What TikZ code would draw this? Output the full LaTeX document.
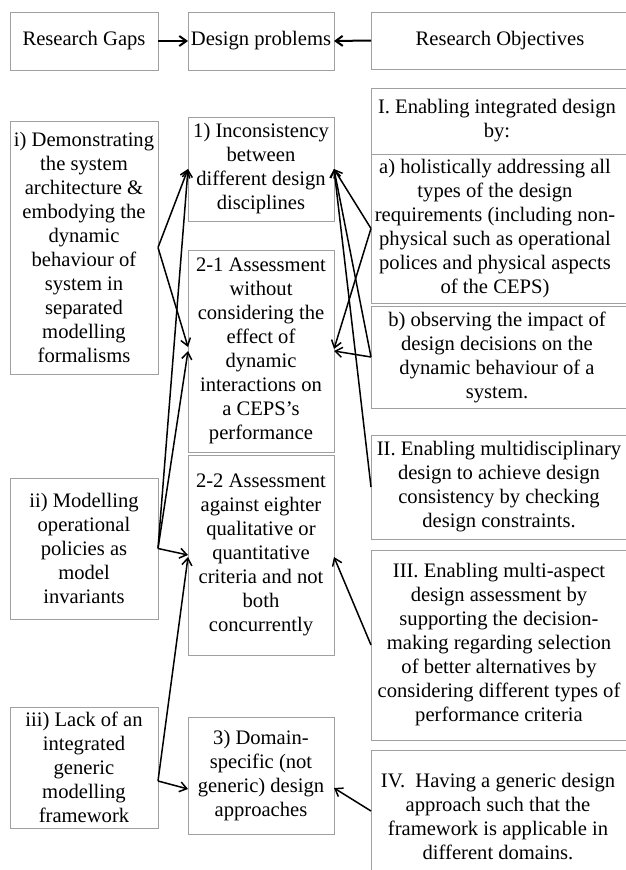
\documentclass[tikz,border=0pt]{standalone}
\usepackage{fontspec}
\setmainfont{Liberation Serif}
\usetikzlibrary{arrows.meta,calc}
\definecolor{boxgray}{RGB}{160,160,160}
\begin{document}
\begin{tikzpicture}[x=1pt,y=-1pt,
  box/.style={draw=boxgray,line width=0.9pt,inner sep=0pt,outer sep=0pt,
    align=center,font=\fontsize{20.6}{24}\selectfont},
  gapbox/.style={box,minimum width=148pt},
  probbox/.style={box,minimum width=146pt},
  objbox/.style={draw=boxgray,line width=0.9pt,inner sep=0pt,outer sep=0pt,
    minimum width=270pt,anchor=north west},
  objtxt/.style={align=center,font=\fontsize{20.6}{24}\selectfont,
    inner sep=0pt,xshift=#1},
  objtxt/.default=-9pt,
  link/.style={line width=1.5pt,-{Straight Barb[length=7pt,width=10pt]}},
  headlink/.style={line width=2pt,-{Straight Barb[length=7pt,width=10pt]}},
]
\useasboundingbox (0,0) rectangle (626,870);

% header row
\node[gapbox,minimum height=58pt] (hg) at (84,41) {Research Gaps};
\node[probbox,minimum height=58pt] (hp) at (261,41) {Design problems};
\node[objbox,minimum height=57pt,
  label={[objtxt=-6pt]center:{Research Objectives}}] (ho) at (371,12) {};

% research gaps
\node[gapbox,minimum height=253pt] (gi) at (84,247.5)
  {i) Demonstrating\\the system\\architecture \&\\embodying the\\dynamic\\behaviour of\\system in\\separated\\modelling\\formalisms};
\node[gapbox,minimum height=141pt] (gii) at (84,548.5)
  {ii) Modelling\\operational\\policies as\\model\\invariants};
\node[gapbox,minimum height=121pt] (giii) at (84,767.5)
  {iii) Lack of an\\integrated\\generic\\modelling\\framework};

% design problems
\node[probbox,minimum height=104pt] (p1) at (261,169)
  {1) Inconsistency\\between\\different design\\disciplines};
\node[probbox,minimum height=202pt] (p21) at (261,351)
  {2-1 Assessment\\without\\considering the\\effect of\\dynamic\\interactions on\\a CEPS’s\\performance};
\node[probbox,minimum height=200pt] (p22) at (261,555)
  {2-2 Assessment\\against eighter\\qualitative or\\quantitative\\criteria and not\\both\\concurrently};
\node[probbox,minimum height=117pt] (p3) at (261,775.5)
  {3) Domain-\\specific (not\\generic) design\\approaches};

% research objectives
\node[objbox,minimum height=66pt,
  label={[objtxt]center:{I. Enabling integrated design\\by:}}] (oI) at (371,88) {};
\node[objbox,minimum height=149pt,
  label={[objtxt=-11pt]center:{a) holistically addressing all\\types of the design\\requirements (including non-\\physical such as operational\\polices and physical aspects\\of the CEPS)}}] (oa) at (371,154) {};
\node[objbox,minimum height=102pt,
  label={[objtxt]center:{b) observing the impact of\\design decisions on the\\dynamic behaviour of a\\system.}}] (ob) at (371,306) {};
\node[objbox,minimum height=104pt,
  label={[objtxt=-7pt]center:{II. Enabling multidisciplinary\\design to achieve design\\consistency by checking\\design constraints.}}] (oII) at (371,435) {};
\node[objbox,minimum height=190pt,
  label={[objtxt=-7pt]center:{III. Enabling multi-aspect\\design assessment by\\supporting the decision-\\making regarding selection\\of better alternatives by\\considering different types of\\performance criteria}}] (oIII) at (371,550) {};
\node[objbox,minimum height=132pt,
  label={[objtxt=-8pt]center:{IV.\ \ Having a generic design\\approach such that the\\framework is applicable in\\different domains.}}] (oIV) at (371,750) {};

% header connectors
\draw[headlink] (hg.east) -- (hp.west);
\draw[headlink] (ho.west) -- (hp.east);

% gaps to problems
\draw[link] (gi.east) -- (p1.west);
\draw[link] (gi.east) -- ($(p21.west)+(0,-4)$);
\draw[link] (gii.east) -- (p1.west);
\draw[link] (gii.east) -- (p21.west);
\draw[link] (gii.east) -- (p22.west);
\coordinate (giiiport) at ($(giii.east)+(0,13.5)$);
\draw[link] (giiiport) -- ($(p22.west)+(0,2)$);
\draw[link] (giiiport) -- ($(p3.west)+(0,13.5)$);

% objectives to problems
\draw[link] (oa.west) -- (p1.east);
\draw[link] (oa.west) -- ($(p21.east)+(0,-2)$);
\draw[link] (ob.west) -- (p1.east);
\draw[link] (ob.west) -- (p21.east);
\draw[link] (oII.west) -- (p1.east);
\draw[link] (oIII.west) -- ($(p22.east)+(0,2)$);
\draw[link] ($(oIV.west)+(0,-5)$) -- ($(p3.east)+(0,12.5)$);
\end{tikzpicture}
\end{document}
